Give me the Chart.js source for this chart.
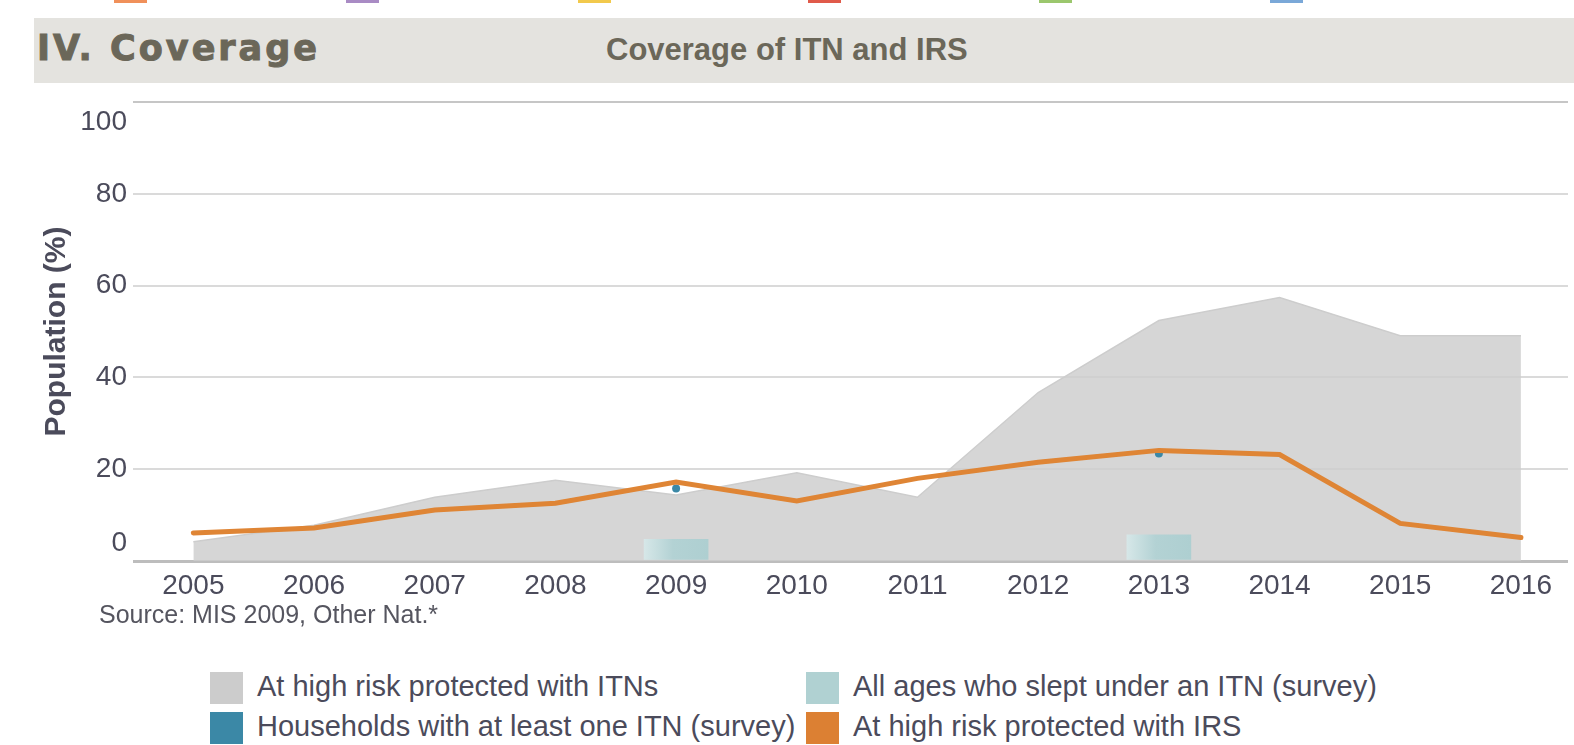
<!DOCTYPE html>
<html>
<head>
<meta charset="utf-8">
<script src="https://cdn.jsdelivr.net/npm/chart.js@4.4.1/dist/chart.umd.min.js"></script>
<style>
    body { margin: 0; width: 1574px; height: 745px; overflow: hidden; background: #fff; position: relative; font-family: "Liberation Sans", Arial, sans-serif; }
    .strip { position: absolute; top: 0; width: 33px; height: 3px; }
    .header { position: absolute; left: 34px; top: 18px; width: 1540px; height: 65px; background: #e4e3df; }
    .section { position: absolute; left: 37px; top: 31px; font: bold 35px "DejaVu Sans"; line-height: 34px; letter-spacing: 3px; color: #6b6759; -webkit-text-stroke: 1px #6b6759; white-space: nowrap; }
    .title { position: absolute; left: 606px; top: 35px; font: bold 31px "Liberation Sans"; line-height: 30px; color: #6b6759; white-space: nowrap; }
    .chart-box { position: absolute; left: 0; top: 90px; width: 1574px; height: 540px; }
    .source { position: absolute; left: 99px; top: 600px; font-size: 25px; line-height: 28px; color: #55555f; white-space: nowrap; }
    .legend-item { position: absolute; height: 32px; line-height: 32px; font-size: 29px; color: #4b4b5b; white-space: nowrap; }
    .legend-item span { position: absolute; left: 0; top: 0; width: 33px; height: 32px; }
    .legend-item div { position: absolute; left: 47px; top: -2px; }
</style>
</head>
<body>
<div class="strip" style="left:114px;background:#f0905a"></div>
<div class="strip" style="left:346px;background:#a98bc4"></div>
<div class="strip" style="left:578px;background:#f2c94c"></div>
<div class="strip" style="left:808px;background:#e05a4a"></div>
<div class="strip" style="left:1039px;background:#9bc76d"></div>
<div class="strip" style="left:1270px;background:#7aa8d8"></div>

<div class="header"></div>
<div class="section">IV. Coverage</div>
<div class="title">Coverage of ITN and IRS</div>

<div class="chart-box"><canvas id="coverage-chart" width="1574" height="540"></canvas></div>

<div class="source">Source: MIS 2009, Other Nat.*</div>

<div class="legend-item" style="left:210px;top:672px"><span style="background:#cccccc"></span><div>At high risk protected with ITNs</div></div>
<div class="legend-item" style="left:210px;top:712px"><span style="background:#3b88a6"></span><div>Households with at least one ITN (survey)</div></div>
<div class="legend-item" style="left:806px;top:672px"><span style="background:#b0d1d2"></span><div>All ages who slept under an ITN (survey)</div></div>
<div class="legend-item" style="left:806px;top:712px"><span style="background:#dc8033"></span><div>At high risk protected with IRS</div></div>

<script>
// Dữ liệu
const years = [2005, 2006, 2007, 2008, 2009, 2010, 2011, 2012, 2013, 2014, 2015, 2016];
const itnProtected = [4.2, 7.8, 13.9, 17.6, 14.4, 19.2, 13.9, 36.7, 52.4, 57.4, 49.1, 49.1];
const irsProtected = [6.1, 7.2, 11.1, 12.6, 17.2, 13.1, 18.0, 21.5, 24.1, 23.2, 8.2, 5.1];
const surveyYears = [2009, 2013];
const householdsSurvey = [15.8, 23.4];
const sleptSurvey = [4.7, 5.7];
const yTicks = [0, 20, 40, 60, 80, 100];

const toPoints = (xs, ys) => xs.map((x, i) => ({ x: x, y: ys[i] }));

// Vẽ nhãn trục y và tiêu đề trục
const yLabelPlugin = {
    id: 'yLabels',
    afterDraw(chart) {
        const { ctx, chartArea, scales } = chart;
        ctx.save();
        ctx.fillStyle = '#4b4b5b';
        ctx.font = '28px "Liberation Sans"';
        ctx.textAlign = 'right';
        ctx.textBaseline = 'middle';
        yTicks.forEach(v => {
            let py = scales.y.getPixelForValue(v);
            py = Math.min(Math.max(py, chartArea.top + 20), chartArea.bottom - 18);
            ctx.fillText(String(v), 127, py);
        });
        ctx.translate(57, (chartArea.top + chartArea.bottom) / 2);
        ctx.rotate(-Math.PI / 2);
        ctx.textAlign = 'center';
        ctx.font = 'bold 30px "Liberation Sans"';
        ctx.fillText('Population (%)', 0, 0);
        ctx.restore();
    }
};

const ctx = document.getElementById('coverage-chart').getContext('2d');
const coverageChart = new Chart(ctx, {
    type: 'line',
    data: {
        datasets: [
            {
                label: 'At high risk protected with IRS',
                data: toPoints(years, irsProtected),
                borderColor: '#df8535',
                borderWidth: 5,
                borderCapStyle: 'round',
                pointRadius: 0,
                fill: false,
                order: 0
            },
            {
                label: 'Households with at least one ITN (survey)',
                data: toPoints(surveyYears, householdsSurvey),
                showLine: false,
                pointRadius: 4,
                pointBorderWidth: 0,
                pointBackgroundColor: '#3b88a6',
                order: 1
            },
            {
                type: 'bar',
                label: 'All ages who slept under an ITN (survey)',
                data: toPoints(surveyYears, sleptSurvey),
                barThickness: 64,
                borderWidth: 0,
                backgroundColor: function (c) {
                    const chart = c.chart;
                    if (!chart.chartArea || !c.raw) return '#b0d1d2';
                    const cx = chart.scales.x.getPixelForValue(c.raw.x);
                    const g = chart.ctx.createLinearGradient(cx - 32, 0, cx + 32, 0);
                    g.addColorStop(0, '#d6e7e8');
                    g.addColorStop(0.45, '#b3d2d4');
                    g.addColorStop(1, '#aecfd1');
                    return g;
                },
                order: 2
            },
            {
                label: 'At high risk protected with ITNs',
                data: toPoints(years, itnProtected),
                borderColor: '#cdcdcd',
                borderWidth: 1.5,
                backgroundColor: 'rgba(205, 205, 205, 0.82)',
                pointRadius: 0,
                fill: 'origin',
                order: 3
            }
        ]
    },
    options: {
        responsive: false,
        animation: false,
        layout: { padding: { top: 12, right: 6, left: 0, bottom: 0 } },
        plugins: {
            legend: { display: false },
            tooltip: { enabled: false }
        },
        scales: {
            x: {
                type: 'linear',
                min: 2004.5,
                max: 2016.39,
                offset: false,
                grid: { display: false, offset: false },
                border: { display: false },
                ticks: {
                    autoSkip: false,
                    maxRotation: 0,
                    padding: 0,
                    color: '#4b4b5b',
                    font: { size: 28, family: 'Liberation Sans' },
                    callback: function (value) {
                        return String(value);
                    }
                },
                afterBuildTicks: function (scale) {
                    scale.ticks = years.map(v => ({ value: v }));
                    scale.min = 2004.5;
                    scale.max = 2016.39;
                },
                afterFit: function (scale) { scale.height = 69; }
            },
            y: {
                min: 0,
                max: 100,
                border: { display: false },
                ticks: { stepSize: 20, display: false },
                grid: {
                    drawTicks: false,
                    color: function (c) {
                        if (c.tick.value === 0) return '#bdbdbd';
                        if (c.tick.value === 100) return '#c6c6c6';
                        return '#dadada';
                    },
                    lineWidth: function (c) {
                        return c.tick.value === 0 ? 3 : 2;
                    }
                },
                afterFit: function (scale) { scale.width = 133; }
            }
        }
    },
    plugins: [yLabelPlugin]
});
</script>
</body>
</html>
